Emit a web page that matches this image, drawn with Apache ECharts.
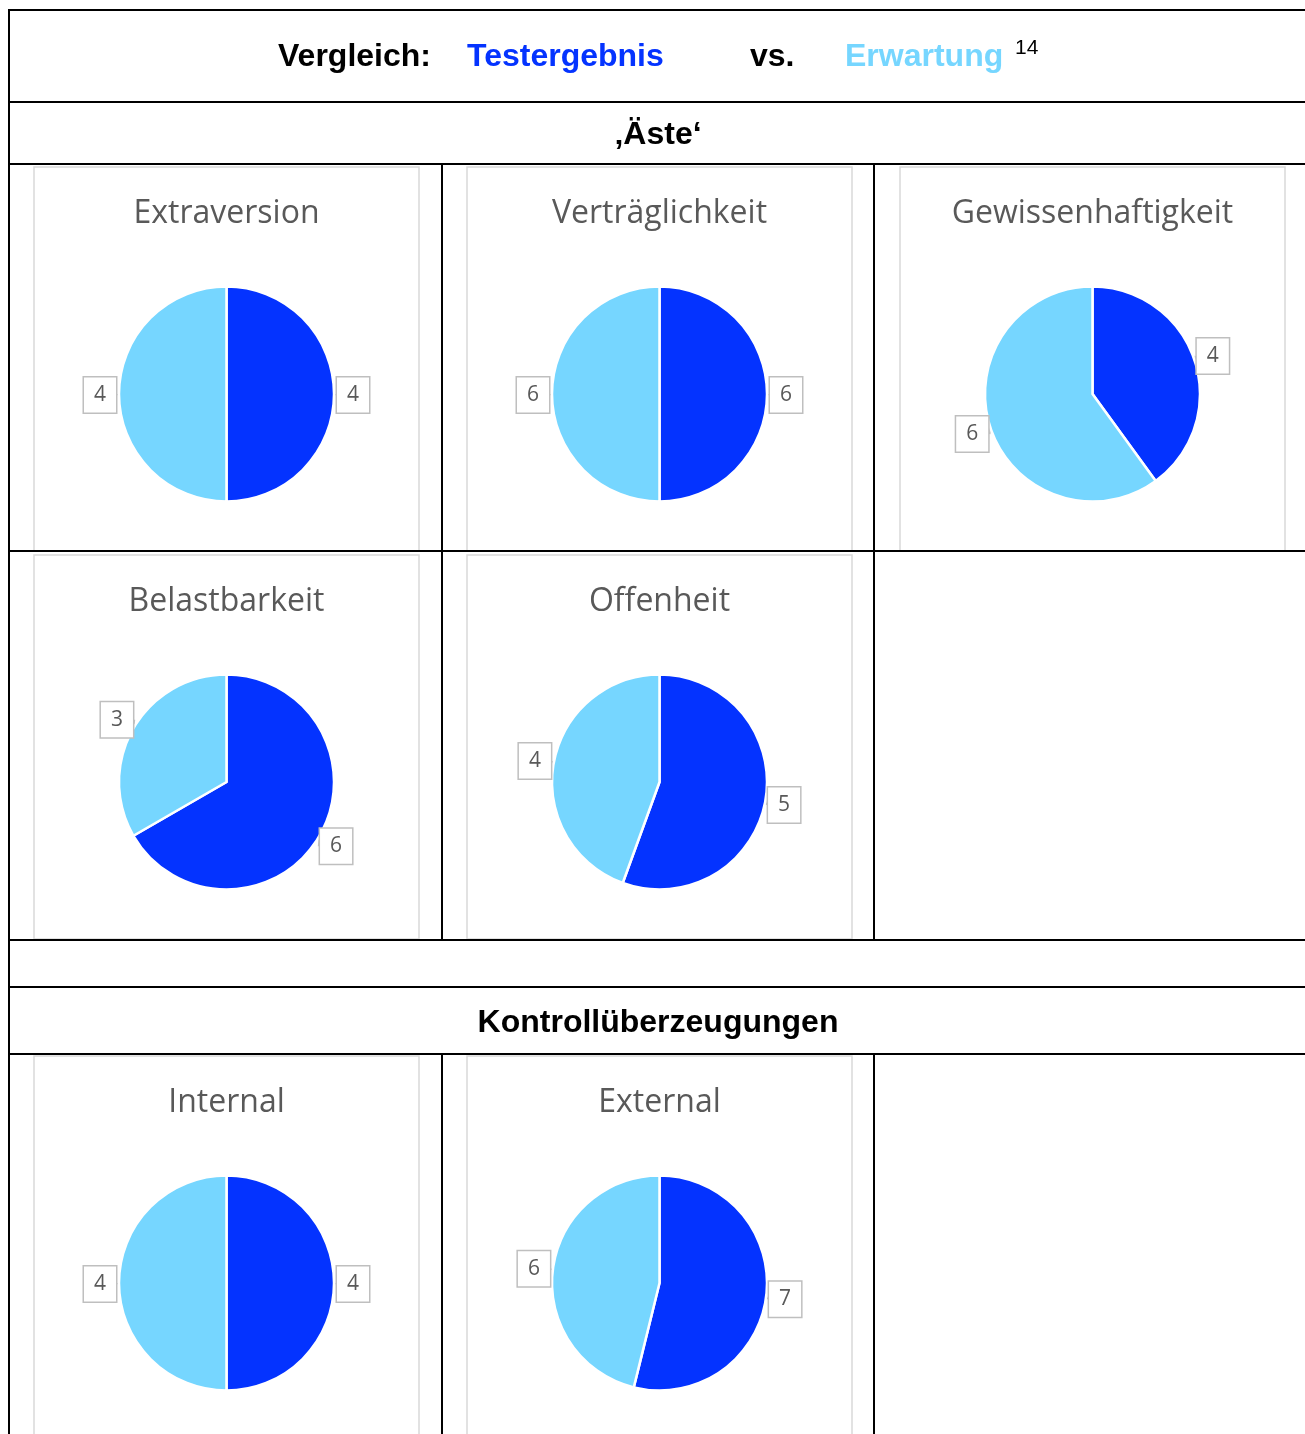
<!DOCTYPE html>
<html>
<head>
<meta charset="utf-8">
<script src="https://cdn.jsdelivr.net/npm/echarts@6/dist/echarts.min.js"></script>
<style>
html,body{margin:0;padding:0;background:#fff;}
#chart{width:1305px;height:1434px;}
</style>
</head>
<body>
<div id="chart"></div>
<script>
// ---- data ----
const chartTitles = ['Extraversion', 'Verträglichkeit', 'Gewissenhaftigkeit', 'Belastbarkeit', 'Offenheit', 'Internal', 'External'];
const seriesNames = ['Testergebnis', 'Erwartung'];
const testergebnis = [4, 6, 4, 6, 5, 4, 7];
const erwartung = [4, 6, 6, 3, 4, 4, 6];
const sectionTitles = ['\u201AÄste\u2018', 'Kontrollüberzeugungen'];

// ---- layout (positions / styles) ----
const colTest = '#0433FF';
const colErw = '#76D6FF';
const boxX = [34, 467, 900];
const boxW = 385;
const boxes = [
  {col: 0, y: 167}, {col: 1, y: 167}, {col: 2, y: 167},
  {col: 0, y: 555}, {col: 1, y: 555},
  {col: 0, y: 1056}, {col: 1, y: 1056}
];
const boxH = 384;
const pieR = 107.5;
const labelOffset = 19;

const chart = echarts.init(document.getElementById('chart'), null, {renderer: 'canvas'});

const graphics = [];
function hline(y, x1, x2, w) {
  graphics.push({type: 'line', shape: {x1: x1, y1: y, x2: x2, y2: y}, style: {stroke: '#000', lineWidth: w || 2}, silent: true, z: 2});
}
function vline(x, y1, y2, w) {
  graphics.push({type: 'line', shape: {x1: x, y1: y1, x2: x, y2: y2}, style: {stroke: '#000', lineWidth: w || 2}, silent: true, z: 2});
}
// chart frames
boxes.forEach(function (b) {
  graphics.push({type: 'rect', shape: {x: boxX[b.col], y: b.y, width: boxW, height: (b.y > 1000 ? 500 : boxH)},
    style: {fill: 'none', stroke: '#d9d9d9', lineWidth: 1.5}, silent: true, z: 1});
});
// table lines
hline(10, 9, 1305);
hline(102, 9, 1305);
hline(164, 9, 1305);
hline(551, 9, 1305);
hline(940, 9, 1305);
hline(987, 9, 1305);
hline(1054, 9, 1305);
vline(9, 9, 1434);
vline(442, 164, 940);
vline(874, 164, 940);
vline(442, 1054, 1434);
vline(874, 1054, 1434);

const hdrFont = 'bold 32px "Liberation Sans", Arial, sans-serif';
function txt(text, x, y, font, color, align) {
  graphics.push({type: 'text', x: x, y: y, silent: true, z: 5,
    style: {text: text, font: font, fill: color, align: align || 'left', verticalAlign: 'middle'}});
}
txt('Vergleich:', 278, 57, hdrFont, '#000');
txt(seriesNames[0], 467, 57, hdrFont, colTest);
txt('vs.', 750, 57, hdrFont, '#000');
txt(seriesNames[1], 845, 57, hdrFont, colErw);
txt('14', 1015, 48, '21px "Liberation Sans", Arial, sans-serif', '#000');
txt(sectionTitles[0], 658, 135, hdrFont, '#000', 'center');
txt(sectionTitles[1], 658, 1023, hdrFont, '#000', 'center');

// chart titles
boxes.forEach(function (b, i) {
  txt(chartTitles[i], boxX[b.col] + boxW / 2, b.y + 47, '32px "Open Sans", sans-serif', '#595959', 'center');
});

const series = boxes.map(function (b, i) {
  const cx = boxX[b.col] + boxW / 2;
  const cy = b.y + 227;
  return {
    type: 'pie',
    name: chartTitles[i],
    center: [cx, cy],
    radius: [0, pieR],
    startAngle: 90,
    clockwise: true,
    avoidLabelOverlap: false,
    silent: true,
    animation: false,
    itemStyle: {borderColor: '#fff', borderWidth: 2.5},
    label: {
      show: true,
      position: 'outside',
      formatter: '{c}',
      fontFamily: '"Open Sans", sans-serif',
      fontSize: 21,
      color: '#595959',
      backgroundColor: '#fff',
      borderColor: '#bfbfbf',
      borderWidth: 1.5,
      padding: [7, 10, 7, 10],
      distanceToLabelLine: 2
    },
    labelLine: {show: true, length: 4, length2: 0, smooth: false,
      lineStyle: {color: '#bfbfbf', width: 1.5}},
    labelLayout: function (params) {
      const p = params.labelLinePoints;
      if (!p || p.length < 2) return {};
      const dx = p[1][0] - p[0][0], dy = p[1][1] - p[0][1];
      const len = Math.sqrt(dx * dx + dy * dy) || 1;
      return {
        x: p[0][0] + dx / len * labelOffset,
        y: p[0][1] + dy / len * labelOffset + 1,
        align: 'center',
        verticalAlign: 'middle'
      };
    },
    emphasis: {disabled: true},
    data: [
      {name: seriesNames[0], value: testergebnis[i], itemStyle: {color: colTest}},
      {name: seriesNames[1], value: erwartung[i], itemStyle: {color: colErw}}
    ]
  };
});

chart.setOption({
  backgroundColor: '#fff',
  animation: false,
  graphic: graphics,
  series: series
});
</script>
</body>
</html>
